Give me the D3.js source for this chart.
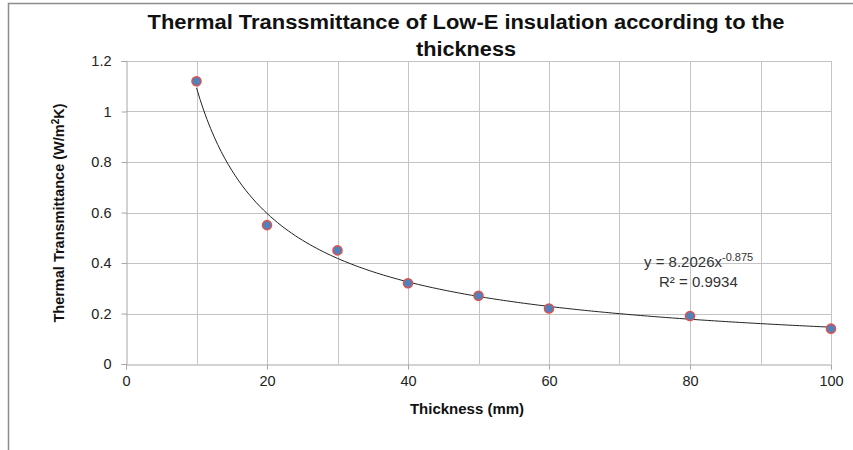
<!DOCTYPE html>
<html><head><meta charset="utf-8">
<script src="https://cdn.jsdelivr.net/npm/d3@7"></script>
<style>body{margin:0;background:#fff}svg{display:block}text{font-family:"Liberation Sans",Arial,sans-serif}</style>
</head><body><svg id="c" width="853" height="450"></svg>
<script>
const thickness = [10, 20, 30, 40, 50, 60, 80, 100];
const transmittance = [1.12, 0.55, 0.45, 0.32, 0.27, 0.22, 0.19, 0.14];
const fitCoef = 8.2026, fitExp = -0.875;
const xTicks = [0, 20, 40, 60, 80, 100];
const yTicks = [0, 0.2, 0.4, 0.6, 0.8, 1, 1.2];
const xGrid = [0,10,20,30,40,50,60,70,80,90,100];
const titleLines = ["Thermal Transsmittance of Low-E insulation according to the", "thickness"];

const svg = d3.select("#c");
const x = d3.scaleLinear().domain([0, 100]).range([126, 831]);
const y = d3.scaleLinear().domain([0, 1.2]).range([364, 61]);

// chart frame
svg.append("path").attr("d", "M8.5,450 V3.5 H853").attr("fill", "none").attr("stroke", "#8c8c8c").attr("stroke-width", 1.5);

// grid
svg.append("g").selectAll("line").data(xGrid.slice(1)).join("line")
  .attr("x1", d => Math.round(x(d)) + 0.5).attr("x2", d => Math.round(x(d)) + 0.5)
  .attr("y1", y(1.2)).attr("y2", y(0)).attr("stroke", "#c4c4c4").attr("stroke-width", 1);
svg.append("g").selectAll("line").data(yTicks.slice(1)).join("line")
  .attr("x1", x(0)).attr("x2", x(100))
  .attr("y1", d => Math.round(y(d)) + 0.5).attr("y2", d => Math.round(y(d)) + 0.5)
  .attr("stroke", "#c4c4c4").attr("stroke-width", 1);

// axes
const xAxis = svg.append("g").attr("transform", `translate(0,${Math.round(y(0)) + 0.5})`)
  .call(d3.axisBottom(x).tickValues(xTicks).tickSize(5).tickPadding(6).tickFormat(d3.format("d")));
const yAxis = svg.append("g").attr("transform", `translate(${Math.round(x(0)) + 0.5},0)`)
  .call(d3.axisLeft(y).tickValues(yTicks).tickSize(5).tickPadding(10).tickFormat(d => d3.format("")(d)));
[xAxis, yAxis].forEach(g => {
  g.select(".domain").attr("stroke", "#a6a6a6");
  g.selectAll(".tick line").attr("stroke", "#a6a6a6");
  g.selectAll(".tick text").attr("fill", "#222").attr("font-size", 14.5)
    .style("font-family", "'Liberation Sans', Arial, sans-serif");
});

// trendline
const fitX = d3.range(10, 100.01, 0.5);
svg.append("path").datum(fitX)
  .attr("d", d3.line().x(d => x(d)).y(d => y(fitCoef * Math.pow(d, fitExp))))
  .attr("fill", "none").attr("stroke", "#222").attr("stroke-width", 1);

// points
svg.append("g").selectAll("circle").data(thickness).join("circle")
  .attr("cx", d => x(d)).attr("cy", (d, i) => y(transmittance[i])).attr("r", 4.5)
  .attr("fill", "#4f81bd").attr("stroke", "#d9534f").attr("stroke-width", 1.6);

// title
const titleLens = [637, 100];
svg.append("g").selectAll("text").data(titleLines).join("text")
  .attr("x", 466).attr("y", (d, i) => 29 + i * 27).attr("text-anchor", "middle")
  .attr("font-size", 20).attr("font-weight", "bold").attr("fill", "#111")
  .attr("textLength", (d, i) => titleLens[i]).attr("lengthAdjust", "spacingAndGlyphs")
  .text(d => d);

// axis titles
svg.append("text").attr("x", 467).attr("y", 414).attr("text-anchor", "middle")
  .attr("font-size", 15).attr("font-weight", "bold").attr("fill", "#111").text("Thickness (mm)");
const yl = svg.append("text").attr("transform", "translate(64,213) rotate(-90)").attr("text-anchor", "middle")
  .attr("font-size", 14.5).attr("font-weight", "bold").attr("fill", "#111");
yl.append("tspan").text("Thermal Transmittance (W/m");
yl.append("tspan").attr("font-size", 10).attr("dy", -5).text("2");
yl.append("tspan").attr("dy", 5).text("K)");

// equation
const eq = svg.append("text").attr("x", 644).attr("y", 267).attr("font-size", 15).attr("fill", "#333");
eq.append("tspan").text(`y = ${fitCoef}x`);
eq.append("tspan").attr("font-size", 11).attr("dy", -6).text(String(fitExp));
svg.append("text").attr("x", 659).attr("y", 287).attr("font-size", 15).attr("fill", "#333").text("R² = 0.9934");
</script></body></html>
